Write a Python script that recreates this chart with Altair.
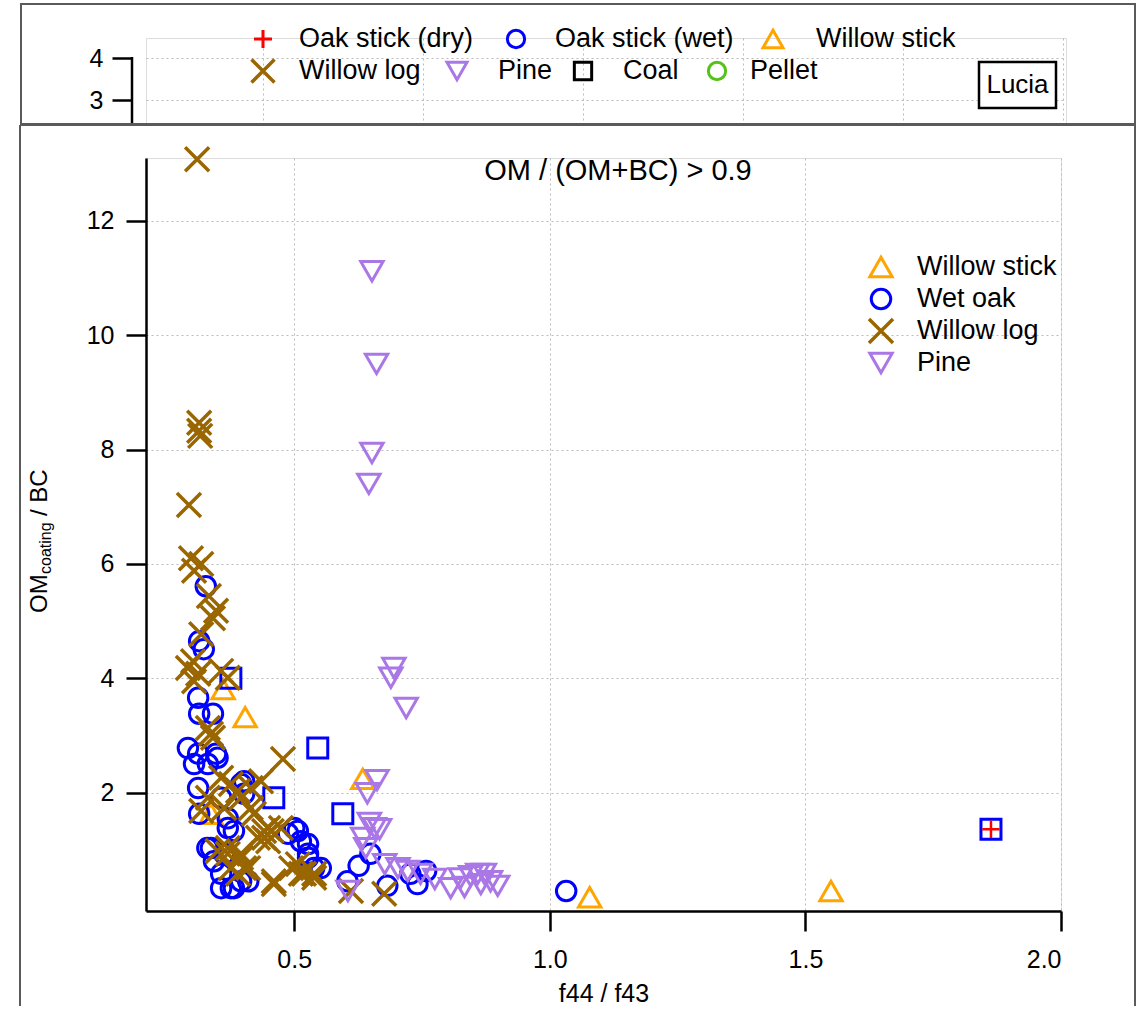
import altair as alt
import pandas as pd

FONT = "Liberation Sans"

# ---------------- data ----------------
willow_log = [(0.31, 13.08), (0.314, 8.47), (0.314, 8.33), (0.316, 8.24), (0.294, 7.03), (0.298, 6.10),
              (0.318, 6.00), (0.304, 5.88), (0.333, 5.44), (0.341, 5.05), (0.347, 5.18), (0.318, 4.77),
              (0.302, 4.30), (0.292, 4.18), (0.312, 4.08), (0.304, 3.95), (0.357, 4.13), (0.37, 4.01),
              (0.331, 3.13), (0.341, 2.96), (0.478, 2.59), (0.357, 2.26), (0.376, 2.15), (0.331, 1.91),
              (0.396, 1.91), (0.415, 2.08), (0.318, 1.68), (0.363, 1.73), (0.421, 1.63), (0.441, 1.33),
              (0.449, 1.15), (0.396, 0.93), (0.37, 0.93), (0.402, 0.68), (0.39, 0.58), (0.46, 0.40),
              (0.507, 0.75), (0.519, 0.58), (0.539, 0.58), (0.474, 1.38), (0.429, 1.21), (0.611, 0.28),
              (0.676, 0.23), (0.435, 2.20), (0.39, 2.03), (0.415, 1.73), (0.449, 1.38), (0.37, 1.03),
              (0.396, 0.86), (0.41, 0.68), (0.441, 1.21), (0.456, 1.33), (0.46, 0.45), (0.494, 0.68),
              (0.513, 0.58), (0.539, 0.51), (0.35, 0.98), (0.376, 0.68), (0.337, 3.03)]
wet_oak = [(1.032, 0.28), (0.327, 5.61), (0.314, 4.65), (0.323, 4.51), (0.312, 3.66), (0.314, 3.38),
           (0.341, 3.38), (0.292, 2.78), (0.312, 2.68), (0.347, 2.68), (0.304, 2.50), (0.331, 2.50),
           (0.312, 2.08), (0.314, 1.63), (0.396, 2.15), (0.402, 1.98), (0.357, 1.91), (0.37, 1.38),
           (0.337, 1.03), (0.363, 0.93), (0.357, 0.58), (0.357, 0.33), (0.376, 0.33), (0.396, 0.45),
           (0.50, 1.38), (0.513, 1.15), (0.527, 0.93), (0.552, 0.68), (0.488, 1.28), (0.649, 0.93),
           (0.626, 0.72), (0.604, 0.45), (0.682, 0.37), (0.727, 0.58), (0.758, 0.63), (0.741, 0.40),
           (0.35, 2.61), (0.402, 2.20), (0.33, 1.03), (0.343, 0.80), (0.382, 0.33), (0.41, 0.45),
           (0.507, 1.33), (0.527, 1.10), (0.527, 0.86), (0.539, 0.68), (0.382, 1.33), (0.37, 1.55)]
willow_stick = [(0.361, 3.81), (0.404, 3.32), (0.634, 2.24), (1.078, 0.17), (1.55, 0.28), (0.337, 1.63)]
pine = [(0.652, 11.12), (0.661, 9.50), (0.652, 7.94), (0.646, 7.40), (0.695, 4.18), (0.689, 4.01),
        (0.719, 3.48), (0.662, 2.22), (0.643, 1.99), (0.647, 1.47), (0.667, 1.36), (0.634, 1.21),
        (0.64, 1.03), (0.657, 1.38), (0.677, 0.75), (0.703, 0.68), (0.722, 0.63), (0.747, 0.58),
        (0.775, 0.49), (0.806, 0.33), (0.833, 0.35), (0.845, 0.54), (0.859, 0.58), (0.872, 0.58),
        (0.865, 0.40), (0.884, 0.45), (0.825, 0.50), (0.898, 0.37), (0.605, 0.28)]
squares = [(0.376, 4.00), (0.546, 2.78), (0.595, 1.63), (0.46, 1.91), (1.863, 1.36)]
oak_dry = [(1.863, 1.36)]

x_ticks = [0.5, 1.0, 1.5, 2.0]
y_ticks = [2, 4, 6, 8, 10, 12]
top_y_ticks = [3, 4]
top_x_grid = [1, 2, 3, 4, 5, 6]

top_legend_labels = ["Oak stick (dry)", "Oak stick (wet)", "Willow stick",
                     "Willow log", "Pine", "Coal", "Pellet"]
inner_legend_labels = ["Willow stick", "Wet oak", "Willow log", "Pine"]
panel_label = "Lucia"
condition_text = "OM / (OM+BC) > 0.9"

# ---------------- styles ----------------
BLUE = "#0000FF"
BROWN = "#996600"
ORANGE = "#FFA500"
PURPLE = "#AA77E6"
RED = "#FF0000"
GREEN = "#55C21A"
BLACK = "#000000"
FRAME = "#5A5A5A"
X_PATH = "M-1,-1L1,1M-1,1L1,-1"
PLUS_PATH = "M-1,0L1,0M0,-1L0,1"
LEG_FS = 27


def df(pairs):
    return pd.DataFrame({"x": [p[0] for p in pairs], "y": [p[1] for p in pairs]})


one = pd.DataFrame({"a": [0]})

# ---------------- main panel ----------------
W, H = 915, 753
xscale = alt.Scale(domain=[0.21, 2.0], nice=False, zero=False)
yscale = alt.Scale(domain=[-0.07, 13.1], nice=False, zero=False)

xaxis = alt.Axis(values=x_ticks, format=".1f", title="f44 / f43", grid=True,
                 gridColor="#BBBBBB", gridDash=[2, 3], gridWidth=1,
                 domainColor=BLACK, domainWidth=2.5, tickColor=BLACK, tickWidth=2.5,
                 tickSize=20, labelFontSize=25, labelPadding=16, labelColor=BLACK,
                 labelFont=FONT, titleFont=FONT, titleFontSize=25, titleFontWeight="normal",
                 titleColor=BLACK, titlePadding=9)
yaxis = alt.Axis(values=y_ticks, title=None, grid=True,
                 gridColor="#BBBBBB", gridDash=[2, 3], gridWidth=1,
                 domainColor=BLACK, domainWidth=2.5, tickColor=BLACK, tickWidth=2.5,
                 tickSize=20, labelFontSize=25, labelPadding=12, labelColor=BLACK,
                 labelFont=FONT)


def pts(pairs, shape, color, size, sw=3):
    return alt.Chart(df(pairs)).mark_point(
        shape=shape, color=color, filled=False, strokeWidth=sw, size=size, opacity=1
    ).encode(x=alt.X("x:Q", scale=xscale, axis=xaxis),
             y=alt.Y("y:Q", scale=yscale, axis=yaxis))


def sym(shape, color, size, x, y, sw=3):
    return alt.Chart(one).mark_point(
        shape=shape, color=color, filled=False, strokeWidth=sw, size=size, opacity=1
    ).encode(x=alt.value(x), y=alt.value(y))


def txt(text, x, y, size=LEG_FS, align="left", angle=0, baseline="middle"):
    kw = dict(text=text, font=FONT, fontSize=size, align=align, baseline=baseline, color=BLACK)
    if angle:
        kw["angle"] = angle
    return alt.Chart(one).mark_text(**kw).encode(x=alt.value(x), y=alt.value(y))


def rule(x, y, x2=None, y2=None, color=FRAME, sw=2):
    enc = dict(x=alt.value(x), y=alt.value(y))
    if x2 is not None:
        enc["x2"] = alt.value(x2)
    if y2 is not None:
        enc["y2"] = alt.value(y2)
    return alt.Chart(one).mark_rule(color=color, strokeWidth=sw).encode(**enc)


X_SIZE = 576
PLUS_SIZE = 300
CIRCLE_SIZE = 380
TRI_SIZE = 500
SQ_SIZE = 400

main_layers = [
    pts(willow_stick, "triangle-up", ORANGE, TRI_SIZE),
    pts(wet_oak, "circle", BLUE, CIRCLE_SIZE),
    pts(squares, "square", BLUE, SQ_SIZE),
    pts(willow_log, X_PATH, BROWN, X_SIZE, 3.5),
    pts(pine, "triangle-down", PURPLE, TRI_SIZE),
    pts(oak_dry, PLUS_PATH, RED, PLUS_SIZE, 2.5),
    # frame of the main panel (top, left, right)
    rule(-126, -33, x2=989),
    rule(-126, -33, y2=848),
    rule(989, -33, y2=848),
    # condition text
    txt(condition_text, 472, 13, size=29, align="center"),
    # inner legend
    sym("triangle-up", ORANGE, TRI_SIZE, 735, 109),
    sym("circle", BLUE, CIRCLE_SIZE, 735, 141),
    sym(X_PATH, BROWN, X_SIZE, 735, 173, 3.5),
    sym("triangle-down", PURPLE, TRI_SIZE, 735, 205),
]
for i, lab in enumerate(inner_legend_labels):
    main_layers.append(txt(lab, 771, 109 + 32 * i))

# y-axis title with subscript
main_layers += [
    txt("OM", -106, 455, size=24, angle=270),
    txt("coating", -100, 416, size=16, angle=270),
    txt("/ BC", -106, 358, size=24, angle=270),
]

main = alt.layer(*main_layers).properties(width=W, height=H)

# ---------------- top (partly hidden) panel ----------------
TW, TH = 920, 86
txscale = alt.Scale(domain=[0.26875, 6.01875], nice=False, zero=False)
tyscale = alt.Scale(domain=[2.43, 4.476], nice=False, zero=False)

top_base = alt.Chart(pd.DataFrame({"x": top_x_grid, "y": [3, 3, 3, 4, 4, 4]})).mark_point(opacity=0).encode(
    x=alt.X("x:Q", scale=txscale,
            axis=alt.Axis(values=top_x_grid, labels=False, ticks=False, domain=False, title=None,
                          grid=True, gridColor="#BBBBBB", gridDash=[2, 3], gridWidth=1)),
    y=alt.Y("y:Q", scale=tyscale,
            axis=alt.Axis(values=top_y_ticks, title=None, domain=False, offset=14, grid=True,
                          gridColor="#BBBBBB", gridDash=[2, 3], gridWidth=1,
                          tickColor=BLACK, tickWidth=2.5, tickSize=20, labelFontSize=25,
                          labelPadding=9, labelColor=BLACK, labelFont=FONT)),
)

top_layers = [
    top_base,
    # y axis line (starts at tick 4)
    rule(-14, 19, y2=TH, color=BLACK, sw=2.5),
    # frame
    alt.Chart(one).mark_rect(filled=False, stroke=FRAME, strokeWidth=2).encode(
        x=alt.value(-125), x2=alt.value(989), y=alt.value(-34), y2=alt.value(86)),
    # Lucia box
    alt.Chart(one).mark_rect(fill="white", stroke=BLACK, strokeWidth=2.5).encode(
        x=alt.value(833), x2=alt.value(910), y=alt.value(24), y2=alt.value(70)),
    txt(panel_label, 871.5, 47, size=26, align="center"),
    # legend symbols
    sym(PLUS_PATH, RED, 324, 117, 1, 3),
    sym("circle", BLUE, 300, 370, 1),
    sym("triangle-up", ORANGE, 400, 627, 1),
    sym(X_PATH, BROWN, 530, 117, 33, 3.5),
    sym("triangle-down", PURPLE, 400, 311, 33),
    sym("square", BLACK, 300, 437, 33),
    sym("circle", GREEN, 300, 571, 33),
]
text_pos = [(153, 1), (409, 1), (670, 1), (153, 33), (352, 33), (477, 33), (604, 33)]
for lab, (tx, ty) in zip(top_legend_labels, text_pos):
    top_layers.append(txt(lab, tx, ty))

top = alt.layer(*top_layers).properties(width=TW, height=TH)

chart = alt.vconcat(top, main, spacing=-3).properties(
    padding={"left": 18, "top": 2, "right": 0, "bottom": 0}
).configure_view(stroke="transparent").configure(background="white")

chart.save("out.html", embed_options={"renderer": "svg", "actions": False})
